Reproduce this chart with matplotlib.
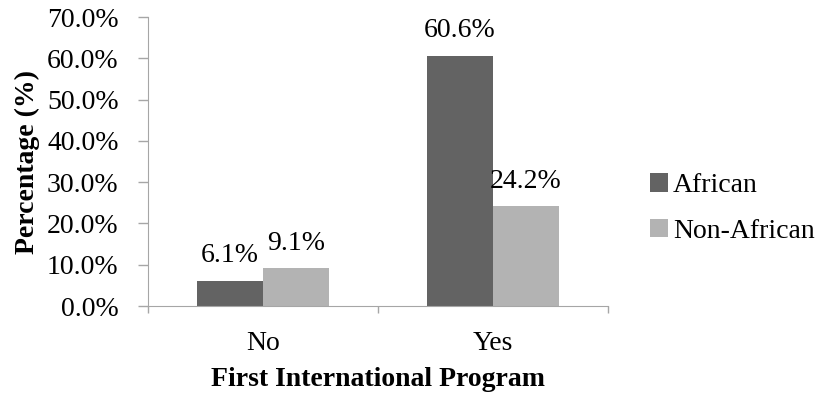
import numpy as np
import matplotlib.pyplot as plt
from matplotlib.ticker import FuncFormatter

plt.rcParams['font.family'] = ['Liberation Serif', 'DejaVu Serif']

categories = ["No", "Yes"]
african = [6.1, 60.6]
non_african = [9.1, 24.2]
series_names = ["African", "Non-African"]

dark = "#636363"
light = "#b3b3b3"
axis_grey = "#a6a6a6"
fs = 20

fig = plt.figure(figsize=(8.25, 3.96), dpi=100)
ax = fig.add_axes([148 / 825, 90 / 396, 460 / 825, 289 / 396])

x = np.arange(len(categories))
w = 0.287
b1 = ax.bar(x - w / 2, african, w, color=dark, label=series_names[0])
b2 = ax.bar(x + w / 2, non_african, w, color=light, label=series_names[1])

# value labels sit a fixed gap above each bar
for bars, vals in ((b1, african), (b2, non_african)):
    for rect, v in zip(bars, vals):
        ax.annotate(f"{v:.1f}%", (rect.get_x() + rect.get_width() / 2, v),
                    xytext=(0, 13.3), textcoords="offset points",
                    ha="center", va="baseline", fontsize=fs)

ax.set_xlim(-0.5, 1.5)
ax.set_ylim(0, 70)
ax.set_yticks(np.arange(0, 71, 10))
ax.yaxis.set_major_formatter(FuncFormatter(lambda v, p: f"{v:.1f}%"))
ax.set_xticks([-0.5, 0.5, 1.5])
ax.set_xticklabels([])
ax.set_xticks(x, minor=True)
ax.set_xticklabels(categories, minor=True)
ax.tick_params(axis="x", which="major", direction="out", length=5, color=axis_grey, width=1)
ax.tick_params(axis="x", which="minor", length=0, labelsize=fs, pad=18)
ax.tick_params(axis="y", direction="out", length=7.2, color=axis_grey, width=1,
               labelsize=fs, pad=14)

for side in ("top", "right"):
    ax.spines[side].set_visible(False)
for side in ("left", "bottom"):
    ax.spines[side].set_color(axis_grey)

ax.set_xlabel("First International Program", fontsize=fs, fontweight="bold", labelpad=8)
ax.set_ylabel("Percentage (%)", fontsize=fs, fontweight="bold", labelpad=5)

ax.legend(loc="center left", bbox_to_anchor=(650 / 825, 187.5 / 396),
          bbox_transform=fig.transFigure, frameon=False, fontsize=fs,
          handlelength=0.65, handleheight=0.65, handletextpad=0.18,
          labelspacing=0.75, borderaxespad=0, borderpad=0)

fig.savefig("out.png", dpi=100)
